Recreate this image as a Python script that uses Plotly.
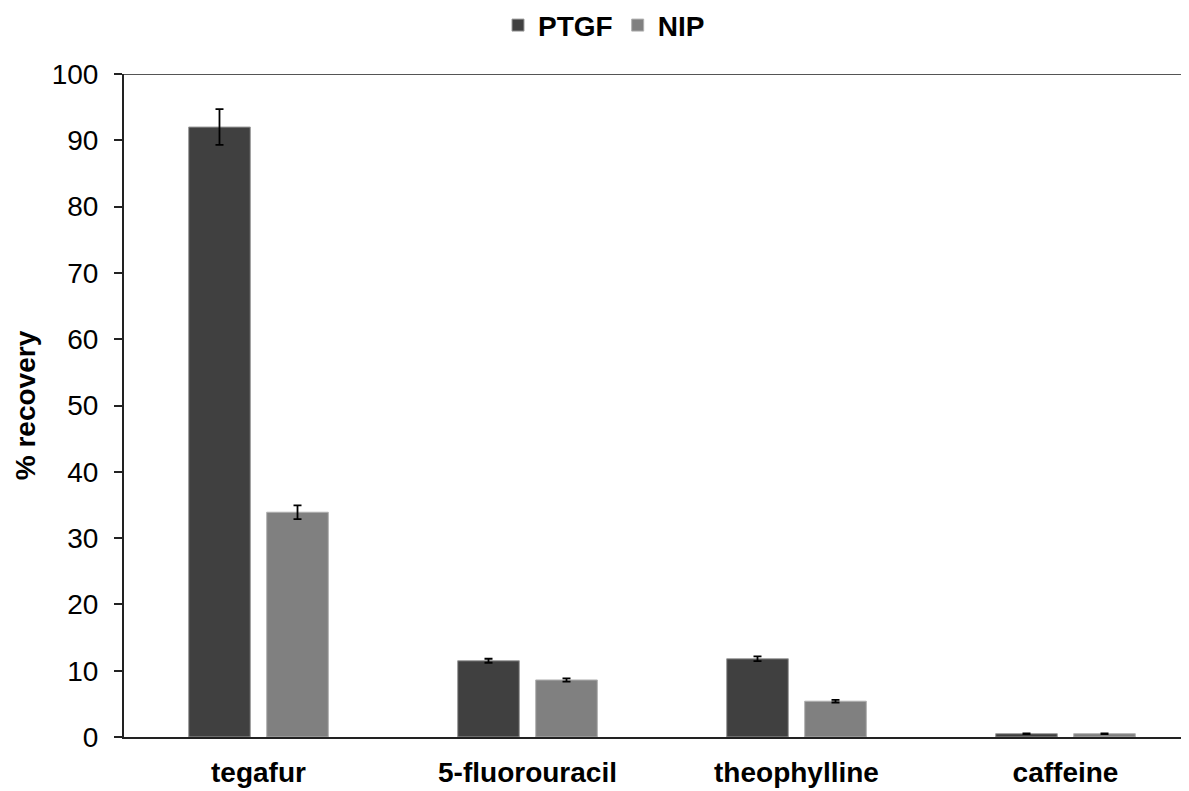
import plotly.graph_objects as go

categories = ["tegafur", "5-fluorouracil", "theophylline", "caffeine"]
ptgf_values = [92.0, 11.5, 11.8, 0.5]
ptgf_errors = [2.7, 0.3, 0.35, 0.05]
nip_values = [33.9, 8.6, 5.4, 0.5]
nip_errors = [1.05, 0.25, 0.2, 0.05]
y_ticks = [0, 10, 20, 30, 40, 50, 60, 70, 80, 90, 100]

font_family = "Liberation Sans, Arial, sans-serif"
FS = 28

fig = go.Figure()
fig.add_trace(go.Bar(
    name="PTGF", x=categories, y=ptgf_values,
    marker=dict(color="#404040", line=dict(color="#9a9a9a", width=1)),
    error_y=dict(type="data", array=ptgf_errors, color="black", thickness=1.8, width=4),
))
fig.add_trace(go.Bar(
    name="NIP", x=categories, y=nip_values,
    marker=dict(color="#808080", line=dict(color="#b0b0b0", width=1)),
    error_y=dict(type="data", array=nip_errors, color="black", thickness=1.8, width=4),
))

fig.update_layout(
    width=1192, height=791,
    margin=dict(l=116, r=0, t=66, b=62),
    paper_bgcolor="white", plot_bgcolor="white",
    barmode="group", bargap=0.42, bargroupgap=0.21,
    font=dict(family=font_family, color="black", size=FS),
    legend=dict(
        orientation="h", xref="container", yref="container",
        x=0.5, xanchor="center", y=0.978, yanchor="middle",
        font=dict(size=FS, family=font_family, weight="bold"),
        itemwidth=30, traceorder="normal",
    ),
    showlegend=True,
)

fig.update_xaxes(
    showline=True, linecolor="#222222", linewidth=2,
    ticks="", showgrid=False,
    tickfont=dict(size=FS, family=font_family, weight="bold"),
    ticklabelstandoff=9,
    range=[-0.5, 3.5],
)
fig.update_yaxes(
    range=[0, 100], tickvals=y_ticks,
    showline=True, linecolor="#222222", linewidth=2,
    ticks="outside", ticklen=8, tickcolor="#222222", tickwidth=1.5,
    showgrid=False, zeroline=False,
    tickfont=dict(size=FS, family=font_family),
    ticklabelstandoff=10,
    title=dict(text="% recovery", font=dict(size=FS, family=font_family, weight="bold"), standoff=8),
)

fig.add_shape(type="line", xref="paper", yref="y", x0=0, x1=1, y0=100, y1=100,
              line=dict(color="#555555", width=2))

fig.write_html("out.html")
